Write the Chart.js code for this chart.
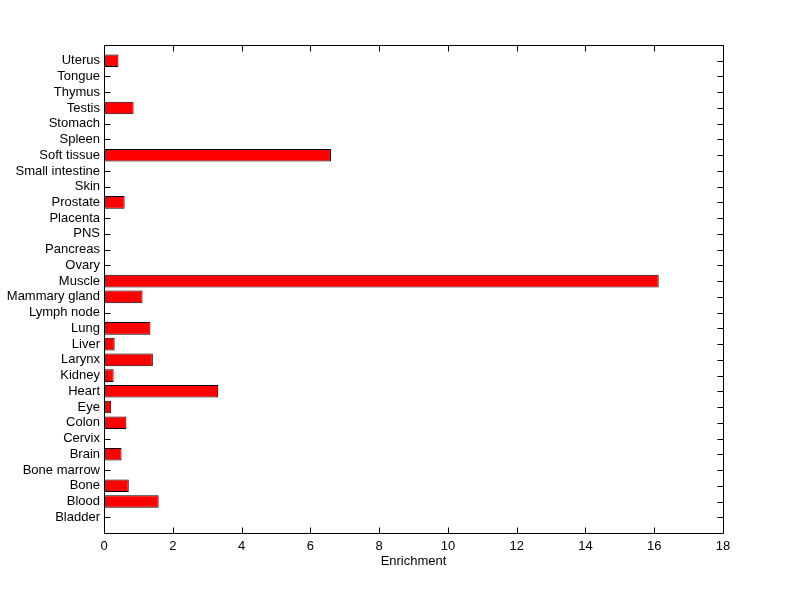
<!DOCTYPE html>
<html>
<head>
<meta charset="utf-8">
<script src="https://cdn.jsdelivr.net/npm/chart.js@4/dist/chart.umd.min.js"></script>
<style>
  html, body { margin: 0; padding: 0; background: #fff; }
  #wrap { width: 800px; height: 599px; position: relative; }
</style>
</head>
<body>
<div id="wrap"><canvas id="chart"></canvas></div>
<script>
// tissues, bottom to top as in the figure
var tissues = ['Bladder', 'Blood', 'Bone', 'Bone marrow', 'Brain', 'Cervix', 'Colon', 'Eye', 'Heart', 'Kidney',
    'Larynx', 'Liver', 'Lung', 'Lymph node', 'Mammary gland', 'Muscle', 'Ovary', 'Pancreas', 'PNS', 'Placenta',
    'Prostate', 'Skin', 'Small intestine', 'Soft tissue', 'Spleen', 'Stomach', 'Testis', 'Thymus', 'Tongue', 'Uterus'];
var enrichment = [0, 1.59, 0.72, 0, 0.51, 0, 0.65, 0.21, 3.32, 0.28,
    1.42, 0.31, 1.35, 0, 1.12, 16.13, 0, 0, 0, 0,
    0.60, 0, 0, 6.60, 0, 0, 0.86, 0, 0, 0.42];
var xTicks = [0, 2, 4, 6, 8, 10, 12, 14, 16, 18];

// one empty slot at each end, like the matlab axis limits
var labels = [''].concat(tissues, ['']);
var values = [null].concat(enrichment, [null]);

var FONT = 'Liberation Sans, Arial, sans-serif';

// frame + inward ticks, matlab style (drawn under the bars)
var matlabAxes = {
    id: 'matlabAxes',
    beforeDatasetsDraw: function(chart) {
        var ctx = chart.ctx, a = chart.chartArea;
        var xs = chart.scales.x, ys = chart.scales.y;
        var L = Math.round(a.left) + 0.5, R = Math.round(a.right) + 0.5;
        var T = Math.round(a.top) + 0.5, B = Math.round(a.bottom) + 0.5;
        ctx.save();
        ctx.strokeStyle = '#000';
        ctx.lineWidth = 1;
        ctx.beginPath();
        ctx.rect(L, T, R - L, B - T);
        xTicks.forEach(function(v) {
            var px = Math.round(xs.getPixelForValue(v)) + 0.5;
            ctx.moveTo(px, B); ctx.lineTo(px, B - 6);
            ctx.moveTo(px, T); ctx.lineTo(px, T + 6);
        });
        tissues.forEach(function(t, i) {
            var py = Math.round(ys.getPixelForValue(i + 1)) + 0.5;
            ctx.moveTo(L, py); ctx.lineTo(L + 6, py);
            ctx.moveTo(R, py); ctx.lineTo(R - 6, py);
        });
        ctx.stroke();
        ctx.restore();
    }
};

new Chart(document.getElementById('chart'), {
    type: 'bar',
    data: {
        labels: labels,
        datasets: [{
            data: values,
            backgroundColor: '#ff0000',
            borderColor: '#000000',
            borderWidth: 1,
            borderSkipped: false,
            barPercentage: 1,
            categoryPercentage: 0.8
        }]
    },
    options: {
        indexAxis: 'y',
        responsive: true,
        maintainAspectRatio: false,
        animation: false,
        layout: { padding: { top: 45, right: 77, left: 0, bottom: 30 } },
        plugins: {
            legend: { display: false },
            tooltip: { enabled: false }
        },
        scales: {
            y: {
                type: 'category',
                offset: false,
                reverse: true,
                grid: { display: false, drawTicks: false },
                border: { display: false },
                afterFit: function(scale) { scale.width = 104; },
                ticks: {
                    autoSkip: false,
                    padding: 4,
                    color: '#000',
                    font: { family: FONT, size: 13 }
                }
            },
            x: {
                type: 'linear',
                min: 0,
                max: 18,
                afterBuildTicks: function(scale) {
                    scale.ticks = xTicks.map(function(v) { return { value: v }; });
                },
                afterFit: function(scale) { scale.height = 36; },
                grid: { display: false, drawTicks: false },
                border: { display: false },
                ticks: {
                    padding: 6,
                    maxRotation: 0,
                    color: '#000',
                    font: { family: FONT, size: 13 }
                },
                title: {
                    display: true,
                    text: 'Enrichment',
                    color: '#000',
                    padding: { top: 2, bottom: 0 },
                    font: { family: FONT, size: 13 }
                }
            }
        }
    },
    plugins: [matlabAxes]
});
</script>
</body>
</html>
